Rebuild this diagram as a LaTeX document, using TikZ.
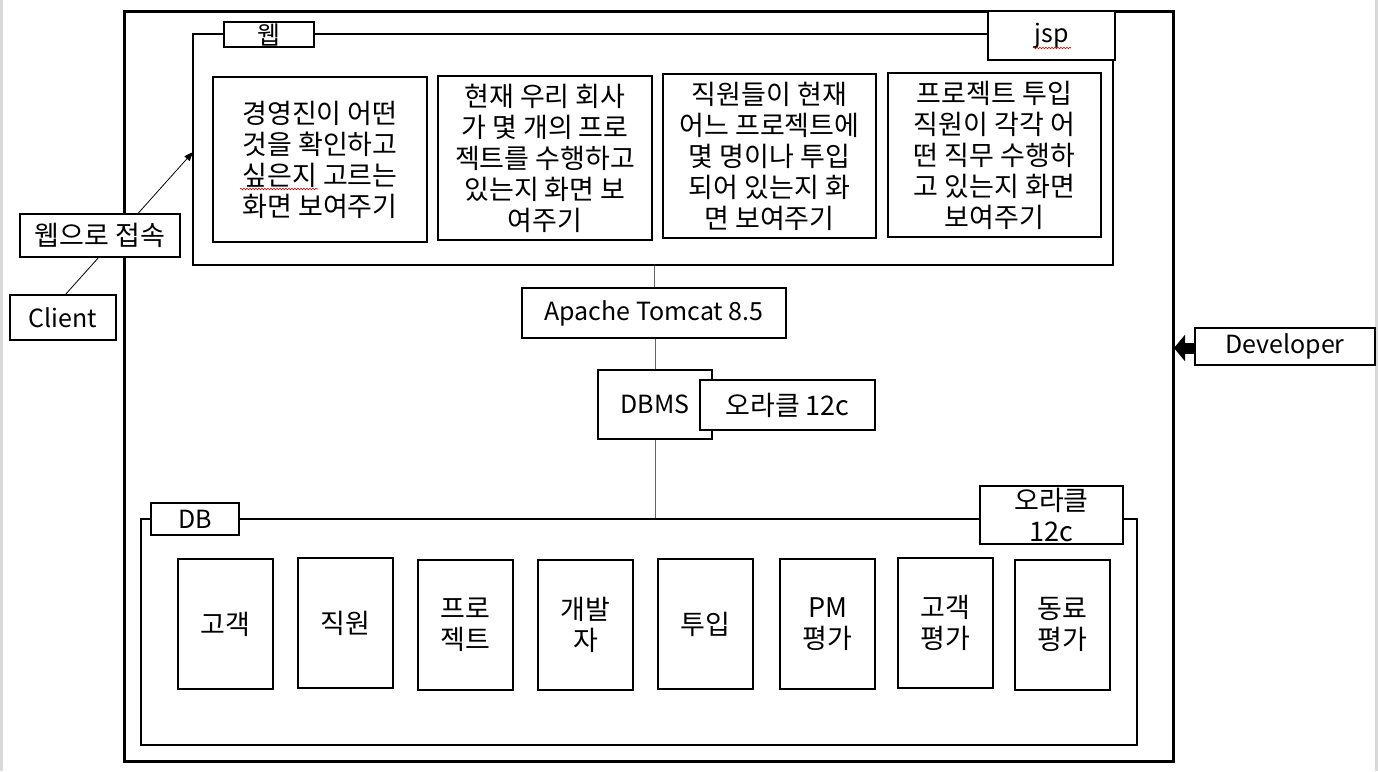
\documentclass[tikz,border=0pt]{standalone}
\usepackage{fontspec}
\setmainfont{Noto Sans CJK KR}
\usetikzlibrary{arrows.meta,decorations.pathmorphing}
\newcommand\mytxt{\fontsize{27}{31}\selectfont}
\newcommand\mylat{\fontsize{25}{31}\selectfont}
\begin{document}
\begin{tikzpicture}[x=1pt,y=-1pt,
  frame/.style={draw, line width=2pt, inner sep=0pt},
  box/.style={draw, line width=2pt, fill=white, inner sep=0pt, align=center, font=\mytxt},
  latbox/.style={box, font=\mylat},
  thinbox/.style={draw, line width=1.2pt, fill=white, inner sep=0pt, align=center, font=\mytxt},
  conn/.style={draw=black!60, line width=1pt},
  squig/.style={draw=red!85!black, line width=0.6pt, decorate, decoration={snake, amplitude=0.8pt, segment length=3pt}}
]
\useasboundingbox (0,0) rectangle (1378,771);
\fill[white] (0,0) rectangle (1378,771);
% page edges
\fill[black!15] (0,0) rectangle (3,771);
\fill[black!15] (1375,0) rectangle (1378,771);

% outer box
\node[draw, line width=3pt, inner sep=0pt, minimum width=1049, minimum height=750] (outer) at (648.5,386) {};

% web frame
\node[frame, minimum width=920, minimum height=231] (web) at (653,149.5) {};
\node[box, minimum width=90, minimum height=25] (weblbl) at (269,34.5) {\fontsize{25}{25}\selectfont 웹};
\node[latbox, minimum width=127, minimum height=49] (jsp) at (1051.5,35.5) {jsp};
\draw[squig] (1033,48) -- (1071,48);

\node[box, minimum width=214, minimum height=165] (t1) at (320,159.5) {경영진이 어떤\\것을 확인하고\\싶은지 고르는\\화면 보여주기};
\draw[squig] (240,189) -- (318,189);
\node[box, minimum width=214, minimum height=164] (t2) at (545,158) {현재 우리 회사\\가 몇 개의 프로\\젝트를 수행하고\\있는지 화면 보\\여주기};
\node[box, minimum width=213, minimum height=164] (t3) at (769.5,156) {직원들이 현재\\어느 프로젝트에\\몇 명이나 투입\\되어 있는지 화\\면 보여주기};
\node[box, minimum width=213, minimum height=164] (t4) at (994.5,155) {프로젝트 투입\\직원이 각각 어\\떤 직무 수행하\\고 있는지 화면\\보여주기};

% middle
\node[latbox, minimum width=264, minimum height=50] (tomcat) at (654,313) {Apache Tomcat 8.5};
\node[latbox, minimum width=114, minimum height=69] (dbms) at (655,404.5) {DBMS};
\node[box, minimum width=175, minimum height=50] (ora1) at (787.5,405) {오라클 12c};

% DB frame
\node[frame, minimum width=996, minimum height=226] (db) at (639,632) {};
\node[latbox, minimum width=88, minimum height=32] (dblbl) at (195,519) {DB};
\node[box, minimum width=143, minimum height=58] (ora2) at (1051.5,515) {\fontsize{27}{31}\selectfont 오라클\\12c};

\node[box, minimum width=95, minimum height=130] (e1) at (225.5,624) {고객};
\node[box, minimum width=95, minimum height=130] (e2) at (345.5,623) {직원};
\node[box, minimum width=95, minimum height=130] (e3) at (465.5,625) {프로\\젝트};
\node[box, minimum width=95, minimum height=130] (e4) at (585.5,625) {개발\\자};
\node[box, minimum width=95, minimum height=130] (e5) at (705.5,624) {투입};
\node[box, minimum width=95, minimum height=130] (e6) at (827.5,624) {PM\\평가};
\node[box, minimum width=95, minimum height=130] (e7) at (945.5,623) {고객\\평가};
\node[box, minimum width=95, minimum height=130] (e8) at (1062.5,624.5) {동료\\평가};

% connectors
\draw[conn] (web.south -| tomcat.north) -- (tomcat.north);
\draw[conn] (tomcat.south -| dbms.north) -- (dbms.north);
\draw[conn] (dbms.south) -- (dbms.south |- db.north);

% client side
\node[latbox, minimum width=106, minimum height=45] (client) at (63,317.5) {Client};
\coordinate (webin) at (193,152);
\draw[black, line width=0.8pt, -{Triangle[length=9pt,width=7pt]}] (65,295) -- (webin);
\node[thinbox, minimum width=160, minimum height=43] (conn) at (100,235.5) {웹으로 접속};

% developer
\node[latbox, minimum width=180, minimum height=37] (dev) at (1285,346.5) {Developer};
\coordinate (devin) at (1174,348) ;
\draw[line width=11pt, -{Triangle[length=11pt,width=26pt]}] (dev.west |- devin) -- (devin);
\end{tikzpicture}
\end{document}
